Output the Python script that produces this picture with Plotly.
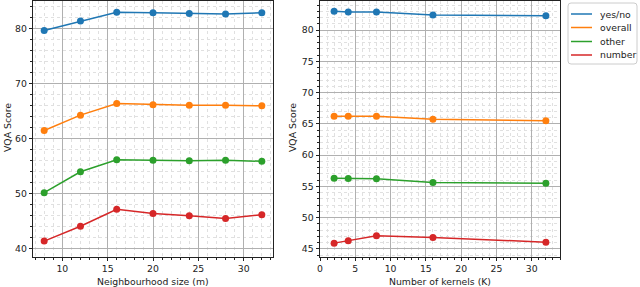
import plotly.graph_objects as go
from plotly.subplots import make_subplots

# ---- data ----
series_names = ["yes/no", "overall", "other", "number"]
colors = ["#1f77b4", "#ff7f0e", "#2ca02c", "#d62728"]

neigh_size = [8, 12, 16, 20, 24, 28, 32]
neigh_yesno = [79.6, 81.3, 82.9, 82.8, 82.7, 82.6, 82.8]
neigh_overall = [61.4, 64.2, 66.3, 66.1, 66.0, 66.0, 65.9]
neigh_other = [50.1, 53.9, 56.1, 56.0, 55.9, 56.0, 55.8]
neigh_number = [41.3, 44.0, 47.1, 46.3, 45.9, 45.4, 46.1]

kernels = [2, 4, 8, 16, 32]
kern_yesno = [83.0, 82.9, 82.9, 82.4, 82.3]
kern_overall = [66.2, 66.2, 66.2, 65.75, 65.5]
kern_other = [56.3, 56.25, 56.2, 55.6, 55.5]
kern_number = [45.9, 46.3, 47.1, 46.8, 46.05]

left_xticks = [10, 15, 20, 25, 30]
left_yticks = [40, 50, 60, 70, 80]
right_xticks = [0, 5, 10, 15, 20, 25, 30]
right_yticks = [45, 50, 55, 60, 65, 70, 75, 80]

FONT = "DejaVu Sans"
FS = 9.3

fig = make_subplots(rows=1, cols=2)

left_series = [neigh_yesno, neigh_overall, neigh_other, neigh_number]
right_series = [kern_yesno, kern_overall, kern_other, kern_number]

for name, col, ys in zip(series_names, colors, left_series):
    fig.add_trace(go.Scatter(x=neigh_size, y=ys, name=name, mode="lines+markers",
                             line=dict(color=col, width=1.5),
                             marker=dict(color=col, size=7),
                             showlegend=False), row=1, col=1)
for name, col, ys in zip(series_names, colors, right_series):
    fig.add_trace(go.Scatter(x=kernels, y=ys, name=name, mode="lines+markers",
                             line=dict(color=col, width=1.5),
                             marker=dict(color=col, size=7),
                             showlegend=False), row=1, col=2)

ydom = [1 - 256.5 / 287, 1 - 0.5 / 287]

common = dict(showline=True, mirror=True, linecolor="#222", linewidth=1,
              showgrid=True, gridcolor="#b0b0b0", gridwidth=1,
              ticks="outside", ticklen=3.5, tickcolor="#222", tickwidth=1,
              zeroline=False, automargin=False,
              tickfont=dict(family=FONT, size=FS, color="#222"))

fig.update_xaxes(**common)
fig.update_yaxes(**common)

minor_style = dict(showgrid=True, gridcolor="#e0e0e0", griddash="dot", gridwidth=1,
                   ticks="outside", ticklen=2, tickcolor="#222")

fig.update_xaxes(domain=[33.3 / 640, 272.7 / 640], range=[6.8, 33.2],
                 tickvals=left_xticks, minor=dict(dtick=1, **minor_style), row=1, col=1)
fig.update_yaxes(domain=ydom, range=[38.5, 85.05],
                 tickvals=left_yticks, minor=dict(dtick=2, **minor_style), row=1, col=1)
fig.update_xaxes(domain=[320 / 640, 560 / 640], range=[0, 34],
                 tickvals=right_xticks, minor=dict(dtick=1, **minor_style), row=1, col=2)
fig.update_yaxes(domain=ydom, range=[43.76, 84.74],
                 tickvals=right_yticks, minor=dict(dtick=1, **minor_style), row=1, col=2)


def px(x):
    return x / 640


def py(y):
    return 1 - y / 287


annotations = []
tfont = dict(family=FONT, size=FS, color="#222")
annotations.append(dict(text="Neighbourhood size (m)", x=px(153), y=py(281),
                        xref="paper", yref="paper", showarrow=False, font=tfont,
                        xanchor="center", yanchor="middle"))
annotations.append(dict(text="Number of kernels (K)", x=px(440), y=py(281),
                        xref="paper", yref="paper", showarrow=False, font=tfont,
                        xanchor="center", yanchor="middle"))
annotations.append(dict(text="VQA Score", x=px(7), y=py(128), textangle=-90,
                        xref="paper", yref="paper", showarrow=False, font=tfont,
                        xanchor="center", yanchor="middle"))
annotations.append(dict(text="VQA Score", x=px(292), y=py(128), textangle=-90,
                        xref="paper", yref="paper", showarrow=False, font=tfont,
                        xanchor="center", yanchor="middle"))

# custom legend (matplotlib-style)
shapes = []
lx0, lx1, ly0, ly1 = 568, 637, 3, 64
r = 3
ppath = (f"M{px(lx0 + r)},{py(ly0)} L{px(lx1 - r)},{py(ly0)} Q{px(lx1)},{py(ly0)} {px(lx1)},{py(ly0 + r)} "
         f"L{px(lx1)},{py(ly1 - r)} Q{px(lx1)},{py(ly1)} {px(lx1 - r)},{py(ly1)} L{px(lx0 + r)},{py(ly1)} "
         f"Q{px(lx0)},{py(ly1)} {px(lx0)},{py(ly1 - r)} L{px(lx0)},{py(ly0 + r)} Q{px(lx0)},{py(ly0)} {px(lx0 + r)},{py(ly0)} Z")
shapes.append(dict(type="path", path=ppath, xref="paper", yref="paper",
                   line=dict(color="#cccccc", width=1), fillcolor="rgba(255,255,255,0.8)"))
row_y = [14, 27.5, 41.5, 55]
for name, col, yy in zip(series_names, colors, row_y):
    shapes.append(dict(type="line", xref="paper", yref="paper",
                       x0=px(571), x1=px(592), y0=py(yy), y1=py(yy),
                       line=dict(color=col, width=1.5)))
    annotations.append(dict(text=name, x=px(598), y=py(yy), xref="paper", yref="paper",
                            showarrow=False, font=tfont, xanchor="left", yanchor="middle"))

fig.update_layout(width=640, height=287, margin=dict(l=0, r=0, t=0, b=0, autoexpand=False),
                  paper_bgcolor="white", plot_bgcolor="white",
                  annotations=annotations, shapes=shapes, showlegend=False)

fig.write_html("out.html", config={"displayModeBar": False},
               post_script="document.body.style.margin='0';document.body.style.padding='0';")
